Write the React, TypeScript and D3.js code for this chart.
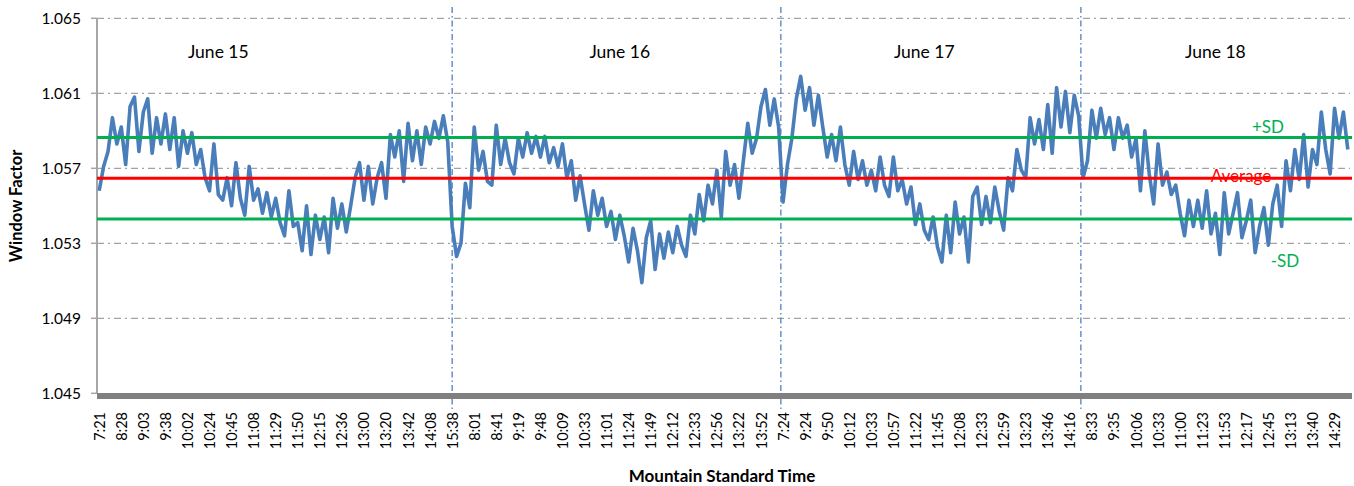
import React, { useEffect, useRef } from 'react';
import * as d3 from 'd3';

// window factor readings, one array per day
const day1Values = [
  1.0558, 1.0571, 1.0579, 1.0597, 1.0583, 1.0592, 1.0572, 1.0603, 1.0608, 1.0579,
  1.0600, 1.0607, 1.0578, 1.0597, 1.0583, 1.0599, 1.0580, 1.0597, 1.0571, 1.0590,
  1.0578, 1.0589, 1.0572, 1.0580, 1.0565, 1.0558, 1.0583, 1.0556, 1.0553, 1.0565,
  1.0550, 1.0573, 1.0554, 1.0545, 1.0571, 1.0553, 1.0559, 1.0546, 1.0557, 1.0544,
  1.0554, 1.0541, 1.0534, 1.0558, 1.0539, 1.0541, 1.0526, 1.0550, 1.0524, 1.0545,
  1.0532, 1.0544, 1.0525, 1.0554, 1.0538, 1.0551, 1.0536, 1.0550, 1.0565, 1.0573,
  1.0553, 1.0571, 1.0551, 1.0565, 1.0573, 1.0554, 1.0588, 1.0576, 1.0590, 1.0563,
  1.0594, 1.0574, 1.0590, 1.0572, 1.0592, 1.0583, 1.0595, 1.0586, 1.0598, 1.0584,
  1.0539,
];
const day2Values = [
  1.0523, 1.0530, 1.0562, 1.0549, 1.0592, 1.0569, 1.0579, 1.0563, 1.0561, 1.0593,
  1.0572, 1.0586, 1.0573, 1.0567, 1.0586, 1.0576, 1.0589, 1.0578, 1.0587, 1.0576,
  1.0587, 1.0573, 1.0581, 1.0571, 1.0583, 1.0565, 1.0574, 1.0553, 1.0566, 1.0551,
  1.0537, 1.0558, 1.0545, 1.0554, 1.0539, 1.0547, 1.0532, 1.0545, 1.0534, 1.0520,
  1.0538, 1.0526, 1.0509, 1.0533, 1.0542, 1.0516, 1.0535, 1.0522, 1.0536, 1.0525,
  1.0539, 1.0529, 1.0523, 1.0545, 1.0535, 1.0556, 1.0542, 1.0561, 1.0551, 1.0569,
  1.0544, 1.0579, 1.0561, 1.0572, 1.0554, 1.0574, 1.0594, 1.0578, 1.0586, 1.0603,
  1.0612, 1.0593, 1.0607, 1.0592,
];
const day3Values = [
  1.0552, 1.0572, 1.0586, 1.0607, 1.0619, 1.0601, 1.0613, 1.0593, 1.0609, 1.0592,
  1.0576, 1.0588, 1.0574, 1.0592, 1.0572, 1.0561, 1.0579, 1.0564, 1.0574, 1.0561,
  1.0569, 1.0558, 1.0576, 1.0561, 1.0555, 1.0576, 1.0558, 1.0564, 1.0551, 1.0560,
  1.0540, 1.0551, 1.0537, 1.0532, 1.0544, 1.0528, 1.0520, 1.0545, 1.0525, 1.0552,
  1.0535, 1.0544, 1.0520, 1.0555, 1.0560, 1.0540, 1.0555, 1.0541, 1.0560, 1.0547,
  1.0537, 1.0565, 1.0558, 1.0580, 1.0569, 1.0565, 1.0597, 1.0583, 1.0596, 1.0580,
  1.0604, 1.0578, 1.0613, 1.0592, 1.0611, 1.0589, 1.0609, 1.0598,
];
const day4Values = [
  1.0565, 1.0574, 1.0601, 1.0586, 1.0602, 1.0588, 1.0597, 1.0580, 1.0597, 1.0586,
  1.0593, 1.0576, 1.0586, 1.0558, 1.0590, 1.0567, 1.0551, 1.0583, 1.0561, 1.0568,
  1.0556, 1.0561, 1.0546, 1.0534, 1.0553, 1.0539, 1.0553, 1.0538, 1.0558, 1.0535,
  1.0546, 1.0524, 1.0557, 1.0535, 1.0546, 1.0557, 1.0533, 1.0542, 1.0553, 1.0525,
  1.0539, 1.0549, 1.0529, 1.0551, 1.0561, 1.0539, 1.0574, 1.0558, 1.0580, 1.0564,
  1.0588, 1.0560, 1.0580, 1.0572, 1.0600, 1.0580, 1.0567, 1.0602, 1.0586, 1.0600,
  1.0580,
];

// every 5th reading gets a time label
const timeLabels = [
  '7:21', '8:28', '9:03', '9:38', '10:02', '10:24', '10:45', '11:08', '11:29', '11:50',
  '12:15', '12:36', '13:00', '13:20', '13:42', '14:08', '15:38',
  '8:01', '8:41', '9:19', '9:48', '10:09', '10:33', '11:01', '11:24', '11:49', '12:12',
  '12:33', '12:56', '13:22', '13:52',
  '7:24', '9:24', '9:50', '10:12', '10:33', '10:57', '11:22', '11:45', '12:08', '12:33',
  '12:59', '13:23', '13:46', '14:16',
  '8:33', '9:35', '10:06', '10:33', '11:00', '11:23', '11:53', '12:17', '12:45', '13:13',
  '13:40', '14:29',
];
const labelEvery = 5;

const dayNames = ['June 15', 'June 16', 'June 17', 'June 18'];
const dayNameAt = [27, 118, 187, 253]; // reading index under each day name
const dayBreaks = [80, 154.5, 222.5]; // between-day markers, in reading index
const yTicks = [1.045, 1.049, 1.053, 1.057, 1.061, 1.065];
const average = 1.05647;
const sd = 0.00217;

const FONT = 'Lato, "Open Sans", sans-serif';

const WindowFactorChart = ({ width = 1354, height = 486 }) => {
  const svgRef = useRef(null);

  useEffect(() => {
    const svg = d3.select(svgRef.current);
    svg.selectAll('*').remove();

    const values = [...day1Values, ...day2Values, ...day3Values, ...day4Values];
    const n = values.length;

    const left = 97;
    const right = 1350;

    const x = d3.scaleLinear().domain([-0.5, n - 0.5]).range([left, right]);
    const y = d3.scaleLinear().domain([1.045, 1.065]).range([393.3, 18.3]);

    // dash-dot gridlines
    svg.append('g')
      .selectAll('line')
      .data(yTicks.filter(t => t > 1.045))
      .enter()
      .append('line')
      .attr('x1', left)
      .attr('x2', right)
      .attr('y1', d => y(d))
      .attr('y2', d => y(d))
      .attr('stroke', '#8c8c8c')
      .attr('stroke-width', 1)
      .attr('stroke-dasharray', '7,4,2,4');

    // value axis
    svg.append('line')
      .attr('x1', left).attr('x2', left)
      .attr('y1', y(1.065)).attr('y2', y(1.045))
      .attr('stroke', '#a6a6a6')
      .attr('stroke-width', 2);

    svg.append('g')
      .selectAll('line')
      .data(yTicks)
      .enter()
      .append('line')
      .attr('x1', left - 6)
      .attr('x2', left)
      .attr('y1', d => y(d))
      .attr('y2', d => y(d))
      .attr('stroke', '#a6a6a6')
      .attr('stroke-width', 1.5);

    svg.append('g')
      .selectAll('text')
      .data(yTicks)
      .enter()
      .append('text')
      .text(d => d3.format('.3f')(d))
      .attr('x', 81)
      .attr('y', d => y(d))
      .attr('text-anchor', 'end')
      .attr('dominant-baseline', 'central')
      .style('font-family', FONT)
      .style('font-size', '15.5px')
      .style('fill', '#000');

    // day separators
    svg.append('g')
      .selectAll('line')
      .data(dayBreaks)
      .enter()
      .append('line')
      .attr('x1', d => x(d))
      .attr('x2', d => x(d))
      .attr('y1', 7)
      .attr('y2', 412)
      .attr('stroke', '#4f81bd')
      .attr('stroke-width', 1.3)
      .attr('stroke-dasharray', '6,3,1.5,3');

    // readings
    const line = d3.line<number>()
      .x((d, i) => x(i))
      .y(d => y(d));

    svg.append('path')
      .datum(values)
      .attr('d', line)
      .attr('fill', 'none')
      .attr('stroke', '#4a7ebb')
      .attr('stroke-width', 3.6)
      .attr('stroke-linejoin', 'round');

    // average and +/- SD
    const stats = [
      { v: average + sd, color: '#00b050' },
      { v: average, color: '#ff0000' },
      { v: average - sd, color: '#00b050' },
    ];
    svg.append('g')
      .selectAll('line')
      .data(stats)
      .enter()
      .append('line')
      .attr('x1', left)
      .attr('x2', right + 2)
      .attr('y1', d => y(d.v))
      .attr('y2', d => y(d.v))
      .attr('stroke', d => d.color)
      .attr('stroke-width', 3);

    // category axis bar
    svg.append('line')
      .attr('x1', left)
      .attr('x2', right + 2)
      .attr('y1', 396)
      .attr('y2', 396)
      .attr('stroke', '#808080')
      .attr('stroke-width', 6);

    // time labels
    svg.append('g')
      .selectAll('text')
      .data(timeLabels)
      .enter()
      .append('text')
      .text(d => d)
      .attr('transform', (d, i) => `translate(${x(i * labelEvery)},412) rotate(-90)`)
      .attr('text-anchor', 'end')
      .attr('dominant-baseline', 'central')
      .style('font-family', FONT)
      .style('font-size', '14.5px')
      .style('fill', '#000');

    // day names
    svg.append('g')
      .selectAll('text')
      .data(dayNames)
      .enter()
      .append('text')
      .text(d => d)
      .attr('x', (d, i) => x(dayNameAt[i]))
      .attr('y', 58)
      .attr('text-anchor', 'middle')
      .style('font-family', FONT)
      .style('font-size', '17.5px')
      .style('fill', '#000');

    // line labels
    const notes = [
      { text: '+SD', cx: 1268, cy: 133, color: '#00b050' },
      { text: 'Average', cx: 1241, cy: 182, color: '#ff0000' },
      { text: '-SD', cx: 1285, cy: 267, color: '#00b050' },
    ];
    svg.append('g')
      .selectAll('text')
      .data(notes)
      .enter()
      .append('text')
      .text(d => d.text)
      .attr('x', d => d.cx)
      .attr('y', d => d.cy)
      .attr('text-anchor', 'middle')
      .style('font-family', FONT)
      .style('font-size', '17px')
      .style('fill', d => d.color);

    // axis titles
    svg.append('text')
      .text('Window Factor')
      .attr('transform', 'translate(22,206) rotate(-90)')
      .attr('text-anchor', 'middle')
      .style('font-family', FONT)
      .style('font-size', '16.5px')
      .style('font-weight', 'bold');

    svg.append('text')
      .text('Mountain Standard Time')
      .attr('x', 722)
      .attr('y', 482)
      .attr('text-anchor', 'middle')
      .style('font-family', FONT)
      .style('font-size', '17px')
      .style('font-weight', 'bold');
  }, [width, height]);

  return (
    <svg
      ref={svgRef}
      width={width}
      height={height}
      style={{ position: 'absolute', left: 0, top: 0, background: '#fff' }}
    ></svg>
  );
};

export default function App() {
  return <WindowFactorChart />;
}
